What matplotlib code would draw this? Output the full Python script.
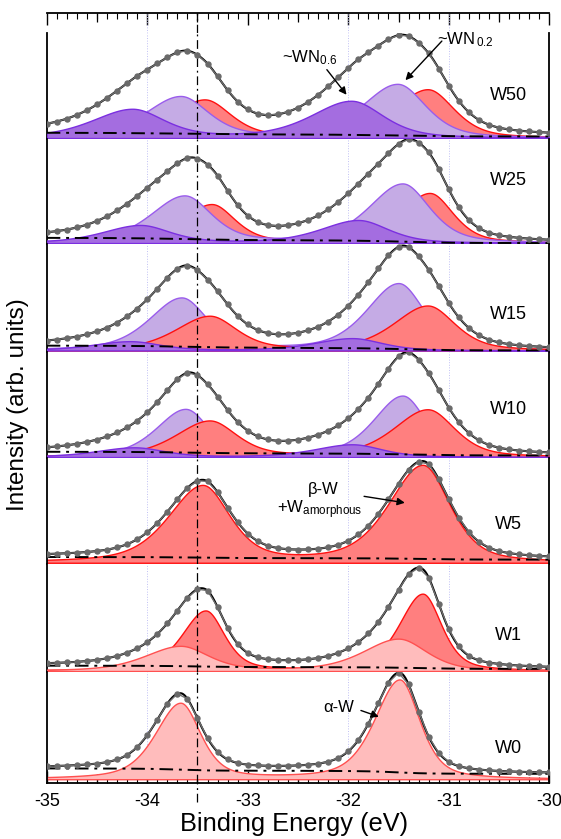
import numpy as np
import matplotlib
matplotlib.use('Agg')
import matplotlib.pyplot as plt
from matplotlib.ticker import MultipleLocator

plt.rcParams['font.family'] = ['Liberation Sans', 'DejaVu Sans']
plt.rcParams['mathtext.fontset'] = 'custom'
plt.rcParams['mathtext.rm'] = 'Liberation Sans'
plt.rcParams['mathtext.it'] = 'Liberation Sans:italic'
plt.rcParams['axes.unicode_minus'] = False

# ---- fit results (W 4f doublets: 4f5/2, 4f7/2) ----
panels = ['W50', 'W25', 'W15', 'W10', 'W5', 'W1', 'W0']

# ~WN0.6 (dark violet)
wn06_pos = [(-34.15, -31.97), (-34.07, -31.90), (-34.17, -31.96), (-34.13, -31.96), None, None, None]
wn06_amp = [(0.27, 0.35), (0.17, 0.22), (0.085, 0.115), (0.09, 0.12), None, None, None]
wn06_fwhm = [0.85, 0.80, 0.80, 0.80, None, None, None]

# ~WN0.2 (light violet)
wn02_pos = [(-33.67, -31.51), (-33.63, -31.46), (-33.66, -31.50), (-33.62, -31.46), None, None, None]
wn02_amp = [(0.39, 0.51), (0.45, 0.57), (0.49, 0.63), (0.45, 0.58), None, None, None]
wn02_fwhm = [0.75, 0.72, 0.68, 0.62, None, None, None]

# beta-W + amorphous W (red)
beta_pos = [(-33.43, -31.21), (-33.36, -31.19), (-33.38, -31.21), (-33.38, -31.21),
            (-33.45, -31.26), (-33.42, -31.26), None]
beta_amp = [(0.36, 0.46), (0.37, 0.48), (0.32, 0.42), (0.34, 0.45),
            (0.73, 0.93), (0.56, 0.72), None]
beta_fwhm = [0.70, 0.62, 0.72, 0.72, 0.72, 0.50, None]

# alpha-W (pink)
alpha_pos = [None, None, None, None, None, (-33.67, -31.50), (-33.67, -31.49)]
alpha_amp = [None, None, None, None, None, (0.23, 0.30), (0.70, 0.92)]
alpha_fwhm = [None, None, None, None, None, 0.75, 0.53]

# Shirley background level at high / low binding energy end
bg_hi = [0.05, 0.05, 0.045, 0.05, 0.055, 0.05, 0.10]
bg_lo = [0.015, 0.0, 0.0, 0.015, 0.03, 0.02, 0.05]

# drawing order of the components in each panel (back -> front)
order = [('beta', 'wn02', 'wn06'), ('beta', 'wn02', 'wn06'), ('wn02', 'beta', 'wn06'),
         ('wn02', 'beta', 'wn06'), ('beta',), ('beta', 'alpha'), ('alpha',)]

comps = {
    'wn06': (wn06_pos, wn06_amp, wn06_fwhm, '#a46de0', '#7b2fe0'),
    'wn02': (wn02_pos, wn02_amp, wn02_fwhm, '#c5abe5', '#9a5cec'),
    'beta': (beta_pos, beta_amp, beta_fwhm, '#ff7f7f', '#ff1010'),
    'alpha': (alpha_pos, alpha_amp, alpha_fwhm, '#ffbcbc', '#ff5050'),
}

ETA = 0.5    # Lorentzian fraction
ASYM = 0.12  # tail towards high binding energy


def peak(x, c, h, w):
    hw = np.where(x < c, w / 2 * (1 + ASYM), w / 2 * (1 - ASYM))
    u = (x - c) / hw
    return h * (ETA / (1 + u ** 2) + (1 - ETA) * np.exp(-np.log(2) * u ** 2))


def doublet(x, pos, amp, w):
    return peak(x, pos[0], amp[0], w) + peak(x, pos[1], amp[1], w)


def shirley(x, comp_sum, hi, lo):
    cum = np.cumsum(comp_sum[::-1])[::-1]
    return lo + (hi - lo) * cum / cum[0]


x = np.linspace(-35, -30, 801)
x_pts = np.arange(-35.0, -29.97, 0.1)

W, H = 561, 839
L, R = 46.7, 549.3
edges = [32.7, 139.3, 244.3, 351.7, 458.3, 564.0, 672.3, 783.0]
dashdot = (0, (7, 3, 1.5, 3))

fig = plt.figure(figsize=(W / 100, H / 100), dpi=100)

# top strip with the upper tick marks
axt = fig.add_axes([L / W, 1 - 32.7 / H, (R - L) / W, 20 / H])
axt.set_xlim(-35, -30)
axt.set_ylim(0, 1)
for s in ['left', 'right', 'bottom']:
    axt.spines[s].set_visible(False)
axt.spines['top'].set_linewidth(1.3)
axt.set_yticks([])
axt.xaxis.set_major_locator(MultipleLocator(1))
axt.xaxis.set_minor_locator(MultipleLocator(0.1))
axt.tick_params(axis='x', which='both', direction='in', top=True, bottom=False,
                labeltop=False, labelbottom=False)
axt.tick_params(axis='x', which='major', length=8.5, width=1)
axt.tick_params(axis='x', which='minor', length=4, width=0.8)
sec = axt.secondary_xaxis('top')
sec.set_xticks([-34.5, -33.5, -32.5, -31.5, -30.5])
sec.tick_params(direction='in', length=6.5, width=0.9, labeltop=False)
sec.spines['top'].set_visible(False)
for xv in [-34, -32, -31]:
    axt.axvline(xv, color='#c0c0f4', lw=0.7, ls=':')
axt.axvline(-33.5, color='k', lw=0.9, ls=dashdot)

label_y = [0.40, 0.60, 0.34, 0.45, 0.37, 0.33, 0.28]

axes = []
for i, name in enumerate(panels):
    top, bot = edges[i], edges[i + 1]
    ax = fig.add_axes([L / W, 1 - bot / H, (R - L) / W, (bot - top) / H])
    axes.append(ax)
    ax.set_xlim(-35, -30)
    if i == len(panels) - 1:
        ax.set_ylim(-0.035, 0.99)
    else:
        ax.set_ylim(-0.012, 1.0)

    comp_sum = np.zeros_like(x)
    comp_pts = np.zeros_like(x_pts)
    for kind in order[i]:
        pos, amp, fw, fc, ec = comps[kind]
        comp_sum += doublet(x, pos[i], amp[i], fw[i])
        comp_pts += doublet(x_pts, pos[i], amp[i], fw[i])
    bg = shirley(x, comp_sum, bg_hi[i], bg_lo[i])
    total = bg + comp_sum
    meas = np.interp(x_pts, x, bg) + comp_pts

    for z, kind in enumerate(order[i]):
        pos, amp, fw, fc, ec = comps[kind]
        y = doublet(x, pos[i], amp[i], fw[i])
        ax.fill_between(x, 0, y, facecolor=fc, edgecolor=ec, lw=1.0, zorder=2 + z)

    for xv in [-34, -32, -31]:
        ax.axvline(xv, color='#c0c0f4', lw=0.7, ls=':', zorder=1)
    ax.axvline(-33.5, color='k', lw=0.9, ls=dashdot, zorder=8)

    ax.plot(x, bg, color='k', lw=1.4, ls=dashdot, zorder=9)
    ax.plot(x, total, color='k', lw=1.5, zorder=10)
    ax.plot(x_pts, meas, color='#707070', lw=1.0, marker='o', ms=3.6,
            mfc='#6a6a6a', mec='#6a6a6a', zorder=11)

    ax.text(-30.41, label_y[i], name, fontsize=13, ha='center', va='center', zorder=12)

    ax.set_yticks([])
    ax.spines['top'].set_visible(False)
    for s in ['left', 'right']:
        ax.spines[s].set_linewidth(1.3)
    if i < len(panels) - 1:
        ax.spines['bottom'].set_visible(False)
        ax.set_xticks([])

# bottom axis
axb = axes[-1]
axb.spines['bottom'].set_linewidth(1.3)
axb.xaxis.set_major_locator(MultipleLocator(1))
axb.xaxis.set_minor_locator(MultipleLocator(0.1))
axb.tick_params(axis='x', which='both', direction='in', top=False)
axb.tick_params(axis='x', which='major', length=8.5, width=1, labelsize=13, pad=7)
axb.tick_params(axis='x', which='minor', length=4, width=0.8)
secb = axb.secondary_xaxis('bottom')
secb.set_xticks([-34.5, -33.5, -32.5, -31.5, -30.5])
secb.tick_params(direction='in', length=6.5, width=0.9, labelbottom=False)
secb.spines['bottom'].set_visible(False)
axb.plot([-33.5, -33.5], [-0.17, 0.0], transform=axb.get_xaxis_transform(),
         color='k', lw=0.9, ls=dashdot, clip_on=False)

# annotations
arrow = dict(arrowstyle='-|>', color='k', lw=1.0, mutation_scale=11)
a50 = axes[0]
a50.text(-32.66, 0.76, r'~WN$_{0.6}$', fontsize=12, ha='left', va='center', zorder=13)
a50.annotate('', xy=(-32.0, 0.39), xytext=(-32.23, 0.67), arrowprops=arrow, zorder=13)
a50.text(-31.12, 0.93, r'~WN$_{\,0.2}$', fontsize=12, ha='left', va='center', zorder=13)
a50.annotate('', xy=(-31.45, 0.53), xytext=(-31.05, 0.94), arrowprops=arrow, zorder=13)

a5 = axes[4]
a5.text(-32.25, 0.70, 'β-W', fontsize=12, ha='center', va='center', zorder=13)
a5.text(-32.28, 0.51, r'+W$_{\mathrm{amorphous}}$', fontsize=12, ha='center', va='center', zorder=13)
a5.annotate('', xy=(-31.41, 0.57), xytext=(-31.87, 0.64), arrowprops=arrow, zorder=13)

a0 = axes[6]
a0.text(-32.1, 0.665, 'α-W', fontsize=12, ha='center', va='center', zorder=13)
a0.annotate('', xy=(-31.67, 0.57), xytext=(-31.90, 0.645), arrowprops=arrow, zorder=13)

fig.text(0.032, 0.518, 'Intensity (arb. units)', rotation=90, fontsize=17.5,
         ha='center', va='center')
fig.text(294.5 / W, 1 - 824 / H, 'Binding Energy (eV)', fontsize=18.3,
         ha='center', va='center')

fig.savefig('out.png', dpi=100)
